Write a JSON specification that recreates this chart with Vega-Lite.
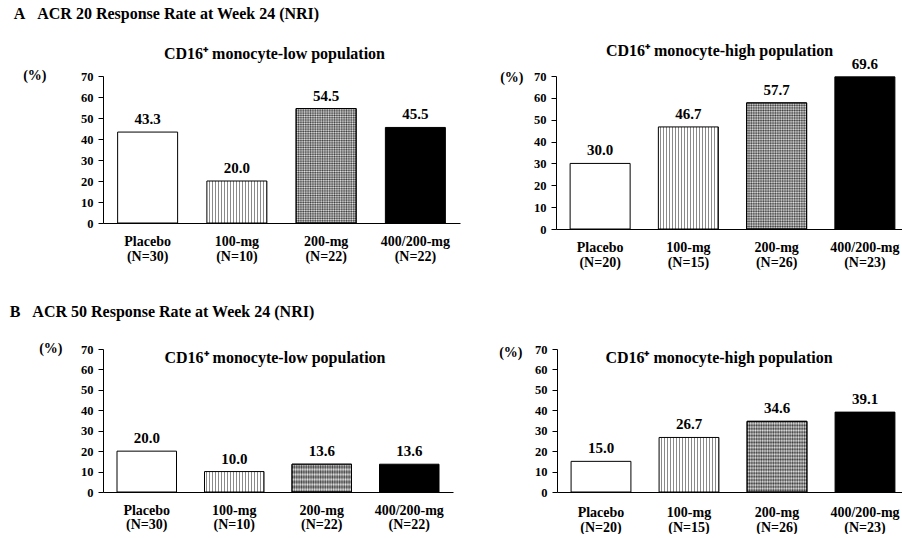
{
  "$schema": "https://vega.github.io/schema/vega-lite/v6.json",
  "background": "white",
  "padding": {"left": 9, "top": 5, "right": 0, "bottom": 0},
  "params": [
    {"name": "g1", "value": {"gradient": "linear", "x1": 0, "y1": 0, "x2": 1, "y2": 0, "stops": [
        {"offset": 0, "color": "#fff"}, {"offset": 0.03, "color": "#fff"}, {"offset": 0.03, "color": "#8a8a8a"}, {"offset": 0.05, "color": "#8a8a8a"},
        {"offset": 0.05, "color": "#fff"}, {"offset": 0.08, "color": "#fff"}, {"offset": 0.08, "color": "#8a8a8a"}, {"offset": 0.1, "color": "#8a8a8a"},
        {"offset": 0.1, "color": "#fff"}, {"offset": 0.13, "color": "#fff"}, {"offset": 0.13, "color": "#8a8a8a"}, {"offset": 0.15, "color": "#8a8a8a"},
        {"offset": 0.15, "color": "#fff"}, {"offset": 0.18, "color": "#fff"}, {"offset": 0.18, "color": "#8a8a8a"}, {"offset": 0.2, "color": "#8a8a8a"},
        {"offset": 0.2, "color": "#fff"}, {"offset": 0.23, "color": "#fff"}, {"offset": 0.23, "color": "#8a8a8a"}, {"offset": 0.25, "color": "#8a8a8a"},
        {"offset": 0.25, "color": "#fff"}, {"offset": 0.28, "color": "#fff"}, {"offset": 0.28, "color": "#8a8a8a"}, {"offset": 0.3, "color": "#8a8a8a"},
        {"offset": 0.3, "color": "#fff"}, {"offset": 0.33, "color": "#fff"}, {"offset": 0.33, "color": "#8a8a8a"}, {"offset": 0.35, "color": "#8a8a8a"},
        {"offset": 0.35, "color": "#fff"}, {"offset": 0.38, "color": "#fff"}, {"offset": 0.38, "color": "#8a8a8a"}, {"offset": 0.4, "color": "#8a8a8a"},
        {"offset": 0.4, "color": "#fff"}, {"offset": 0.43, "color": "#fff"}, {"offset": 0.43, "color": "#8a8a8a"}, {"offset": 0.45, "color": "#8a8a8a"},
        {"offset": 0.45, "color": "#fff"}, {"offset": 0.48, "color": "#fff"}, {"offset": 0.48, "color": "#8a8a8a"}, {"offset": 0.5, "color": "#8a8a8a"},
        {"offset": 0.5, "color": "#fff"}, {"offset": 0.53, "color": "#fff"}, {"offset": 0.53, "color": "#8a8a8a"}, {"offset": 0.55, "color": "#8a8a8a"},
        {"offset": 0.55, "color": "#fff"}, {"offset": 0.58, "color": "#fff"}, {"offset": 0.58, "color": "#8a8a8a"}, {"offset": 0.6, "color": "#8a8a8a"},
        {"offset": 0.6, "color": "#fff"}, {"offset": 0.63, "color": "#fff"}, {"offset": 0.63, "color": "#8a8a8a"}, {"offset": 0.65, "color": "#8a8a8a"},
        {"offset": 0.65, "color": "#fff"}, {"offset": 0.68, "color": "#fff"}, {"offset": 0.68, "color": "#8a8a8a"}, {"offset": 0.7, "color": "#8a8a8a"},
        {"offset": 0.7, "color": "#fff"}, {"offset": 0.73, "color": "#fff"}, {"offset": 0.73, "color": "#8a8a8a"}, {"offset": 0.75, "color": "#8a8a8a"},
        {"offset": 0.75, "color": "#fff"}, {"offset": 0.78, "color": "#fff"}, {"offset": 0.78, "color": "#8a8a8a"}, {"offset": 0.8, "color": "#8a8a8a"},
        {"offset": 0.8, "color": "#fff"}, {"offset": 0.83, "color": "#fff"}, {"offset": 0.83, "color": "#8a8a8a"}, {"offset": 0.85, "color": "#8a8a8a"},
        {"offset": 0.85, "color": "#fff"}, {"offset": 0.88, "color": "#fff"}, {"offset": 0.88, "color": "#8a8a8a"}, {"offset": 0.9, "color": "#8a8a8a"},
        {"offset": 0.9, "color": "#fff"}, {"offset": 0.93, "color": "#fff"}, {"offset": 0.93, "color": "#8a8a8a"}, {"offset": 0.95, "color": "#8a8a8a"},
        {"offset": 0.95, "color": "#fff"}, {"offset": 0.98, "color": "#fff"}, {"offset": 0.98, "color": "#8a8a8a"}, {"offset": 1, "color": "#8a8a8a"}
      ]}},
    {"name": "g2", "value": {"gradient": "linear", "x1": 0, "y1": 0, "x2": 1, "y2": 0, "stops": [
        {"offset": 0, "color": "#555"}, {"offset": 0.02, "color": "#d8d8d8"}, {"offset": 0.04, "color": "#555"}, {"offset": 0.06, "color": "#d8d8d8"},
        {"offset": 0.08, "color": "#555"}, {"offset": 0.1, "color": "#d8d8d8"}, {"offset": 0.12, "color": "#555"}, {"offset": 0.14, "color": "#d8d8d8"},
        {"offset": 0.16, "color": "#555"}, {"offset": 0.18, "color": "#d8d8d8"}, {"offset": 0.2, "color": "#555"}, {"offset": 0.22, "color": "#d8d8d8"},
        {"offset": 0.24, "color": "#555"}, {"offset": 0.26, "color": "#d8d8d8"}, {"offset": 0.28, "color": "#555"}, {"offset": 0.3, "color": "#d8d8d8"},
        {"offset": 0.32, "color": "#555"}, {"offset": 0.34, "color": "#d8d8d8"}, {"offset": 0.36, "color": "#555"}, {"offset": 0.38, "color": "#d8d8d8"},
        {"offset": 0.4, "color": "#555"}, {"offset": 0.42, "color": "#d8d8d8"}, {"offset": 0.44, "color": "#555"}, {"offset": 0.46, "color": "#d8d8d8"},
        {"offset": 0.48, "color": "#555"}, {"offset": 0.5, "color": "#d8d8d8"}, {"offset": 0.52, "color": "#555"}, {"offset": 0.54, "color": "#d8d8d8"},
        {"offset": 0.56, "color": "#555"}, {"offset": 0.58, "color": "#d8d8d8"}, {"offset": 0.6, "color": "#555"}, {"offset": 0.62, "color": "#d8d8d8"},
        {"offset": 0.64, "color": "#555"}, {"offset": 0.66, "color": "#d8d8d8"}, {"offset": 0.68, "color": "#555"}, {"offset": 0.7, "color": "#d8d8d8"},
        {"offset": 0.72, "color": "#555"}, {"offset": 0.74, "color": "#d8d8d8"}, {"offset": 0.76, "color": "#555"}, {"offset": 0.78, "color": "#d8d8d8"},
        {"offset": 0.8, "color": "#555"}, {"offset": 0.82, "color": "#d8d8d8"}, {"offset": 0.84, "color": "#555"}, {"offset": 0.86, "color": "#d8d8d8"},
        {"offset": 0.88, "color": "#555"}, {"offset": 0.9, "color": "#d8d8d8"}, {"offset": 0.92, "color": "#555"}, {"offset": 0.94, "color": "#d8d8d8"},
        {"offset": 0.96, "color": "#555"}, {"offset": 0.98, "color": "#d8d8d8"}, {"offset": 1, "color": "#555"}
      ]}},
    {"name": "g3", "value": {"gradient": "linear", "x1": 0, "y1": 0, "x2": 0, "y2": 1, "stops": [
        {"offset": 0, "color": "rgba(0,0,0,0.35)"}, {"offset": 0.01, "color": "rgba(255,255,255,0.35)"}, {"offset": 0.02, "color": "rgba(0,0,0,0.35)"}, {"offset": 0.03, "color": "rgba(255,255,255,0.35)"}, {"offset": 0.04, "color": "rgba(0,0,0,0.35)"}, {"offset": 0.05, "color": "rgba(255,255,255,0.35)"}, {"offset": 0.06, "color": "rgba(0,0,0,0.35)"}, {"offset": 0.07, "color": "rgba(255,255,255,0.35)"}, {"offset": 0.08, "color": "rgba(0,0,0,0.35)"}, {"offset": 0.09, "color": "rgba(255,255,255,0.35)"},
        {"offset": 0.1, "color": "rgba(0,0,0,0.35)"}, {"offset": 0.11, "color": "rgba(255,255,255,0.35)"}, {"offset": 0.12, "color": "rgba(0,0,0,0.35)"}, {"offset": 0.13, "color": "rgba(255,255,255,0.35)"}, {"offset": 0.14, "color": "rgba(0,0,0,0.35)"}, {"offset": 0.15, "color": "rgba(255,255,255,0.35)"}, {"offset": 0.16, "color": "rgba(0,0,0,0.35)"}, {"offset": 0.17, "color": "rgba(255,255,255,0.35)"}, {"offset": 0.18, "color": "rgba(0,0,0,0.35)"}, {"offset": 0.19, "color": "rgba(255,255,255,0.35)"},
        {"offset": 0.2, "color": "rgba(0,0,0,0.35)"}, {"offset": 0.21, "color": "rgba(255,255,255,0.35)"}, {"offset": 0.22, "color": "rgba(0,0,0,0.35)"}, {"offset": 0.23, "color": "rgba(255,255,255,0.35)"}, {"offset": 0.24, "color": "rgba(0,0,0,0.35)"}, {"offset": 0.25, "color": "rgba(255,255,255,0.35)"}, {"offset": 0.26, "color": "rgba(0,0,0,0.35)"}, {"offset": 0.27, "color": "rgba(255,255,255,0.35)"}, {"offset": 0.28, "color": "rgba(0,0,0,0.35)"}, {"offset": 0.29, "color": "rgba(255,255,255,0.35)"},
        {"offset": 0.3, "color": "rgba(0,0,0,0.35)"}, {"offset": 0.31, "color": "rgba(255,255,255,0.35)"}, {"offset": 0.32, "color": "rgba(0,0,0,0.35)"}, {"offset": 0.33, "color": "rgba(255,255,255,0.35)"}, {"offset": 0.34, "color": "rgba(0,0,0,0.35)"}, {"offset": 0.35, "color": "rgba(255,255,255,0.35)"}, {"offset": 0.36, "color": "rgba(0,0,0,0.35)"}, {"offset": 0.37, "color": "rgba(255,255,255,0.35)"}, {"offset": 0.38, "color": "rgba(0,0,0,0.35)"}, {"offset": 0.39, "color": "rgba(255,255,255,0.35)"},
        {"offset": 0.4, "color": "rgba(0,0,0,0.35)"}, {"offset": 0.41, "color": "rgba(255,255,255,0.35)"}, {"offset": 0.42, "color": "rgba(0,0,0,0.35)"}, {"offset": 0.43, "color": "rgba(255,255,255,0.35)"}, {"offset": 0.44, "color": "rgba(0,0,0,0.35)"}, {"offset": 0.45, "color": "rgba(255,255,255,0.35)"}, {"offset": 0.46, "color": "rgba(0,0,0,0.35)"}, {"offset": 0.47, "color": "rgba(255,255,255,0.35)"}, {"offset": 0.48, "color": "rgba(0,0,0,0.35)"}, {"offset": 0.49, "color": "rgba(255,255,255,0.35)"},
        {"offset": 0.5, "color": "rgba(0,0,0,0.35)"}, {"offset": 0.51, "color": "rgba(255,255,255,0.35)"}, {"offset": 0.52, "color": "rgba(0,0,0,0.35)"}, {"offset": 0.53, "color": "rgba(255,255,255,0.35)"}, {"offset": 0.54, "color": "rgba(0,0,0,0.35)"}, {"offset": 0.55, "color": "rgba(255,255,255,0.35)"}, {"offset": 0.56, "color": "rgba(0,0,0,0.35)"}, {"offset": 0.57, "color": "rgba(255,255,255,0.35)"}, {"offset": 0.58, "color": "rgba(0,0,0,0.35)"}, {"offset": 0.59, "color": "rgba(255,255,255,0.35)"},
        {"offset": 0.6, "color": "rgba(0,0,0,0.35)"}, {"offset": 0.61, "color": "rgba(255,255,255,0.35)"}, {"offset": 0.62, "color": "rgba(0,0,0,0.35)"}, {"offset": 0.63, "color": "rgba(255,255,255,0.35)"}, {"offset": 0.64, "color": "rgba(0,0,0,0.35)"}, {"offset": 0.65, "color": "rgba(255,255,255,0.35)"}, {"offset": 0.66, "color": "rgba(0,0,0,0.35)"}, {"offset": 0.67, "color": "rgba(255,255,255,0.35)"}, {"offset": 0.68, "color": "rgba(0,0,0,0.35)"}, {"offset": 0.69, "color": "rgba(255,255,255,0.35)"},
        {"offset": 0.7, "color": "rgba(0,0,0,0.35)"}, {"offset": 0.71, "color": "rgba(255,255,255,0.35)"}, {"offset": 0.72, "color": "rgba(0,0,0,0.35)"}, {"offset": 0.73, "color": "rgba(255,255,255,0.35)"}, {"offset": 0.74, "color": "rgba(0,0,0,0.35)"}, {"offset": 0.75, "color": "rgba(255,255,255,0.35)"}, {"offset": 0.76, "color": "rgba(0,0,0,0.35)"}, {"offset": 0.77, "color": "rgba(255,255,255,0.35)"}, {"offset": 0.78, "color": "rgba(0,0,0,0.35)"}, {"offset": 0.79, "color": "rgba(255,255,255,0.35)"},
        {"offset": 0.8, "color": "rgba(0,0,0,0.35)"}, {"offset": 0.81, "color": "rgba(255,255,255,0.35)"}, {"offset": 0.82, "color": "rgba(0,0,0,0.35)"}, {"offset": 0.83, "color": "rgba(255,255,255,0.35)"}, {"offset": 0.84, "color": "rgba(0,0,0,0.35)"}, {"offset": 0.85, "color": "rgba(255,255,255,0.35)"}, {"offset": 0.86, "color": "rgba(0,0,0,0.35)"}, {"offset": 0.87, "color": "rgba(255,255,255,0.35)"}, {"offset": 0.88, "color": "rgba(0,0,0,0.35)"}, {"offset": 0.89, "color": "rgba(255,255,255,0.35)"},
        {"offset": 0.9, "color": "rgba(0,0,0,0.35)"}, {"offset": 0.91, "color": "rgba(255,255,255,0.35)"}, {"offset": 0.92, "color": "rgba(0,0,0,0.35)"}, {"offset": 0.93, "color": "rgba(255,255,255,0.35)"}, {"offset": 0.94, "color": "rgba(0,0,0,0.35)"}, {"offset": 0.95, "color": "rgba(255,255,255,0.35)"}, {"offset": 0.96, "color": "rgba(0,0,0,0.35)"}, {"offset": 0.97, "color": "rgba(255,255,255,0.35)"}, {"offset": 0.98, "color": "rgba(0,0,0,0.35)"}, {"offset": 0.99, "color": "rgba(255,255,255,0.35)"},
        {"offset": 1, "color": "rgba(0,0,0,0.35)"}
      ]}}
  ],
  "data": {"values": [
    {"sec": "A", "pop": "low", "dose": "Placebo", "cat": "Placebo|(N=30)", "v": 43.3},
    {"sec": "A", "pop": "low", "dose": "100-mg", "cat": "100-mg|(N=10)", "v": 20.0},
    {"sec": "A", "pop": "low", "dose": "200-mg", "cat": "200-mg|(N=22)", "v": 54.5},
    {"sec": "A", "pop": "low", "dose": "400/200-mg", "cat": "400/200-mg|(N=22)", "v": 45.5},
    {"sec": "A", "pop": "high", "dose": "Placebo", "cat": "Placebo|(N=20)", "v": 30.0},
    {"sec": "A", "pop": "high", "dose": "100-mg", "cat": "100-mg|(N=15)", "v": 46.7},
    {"sec": "A", "pop": "high", "dose": "200-mg", "cat": "200-mg|(N=26)", "v": 57.7},
    {"sec": "A", "pop": "high", "dose": "400/200-mg", "cat": "400/200-mg|(N=23)", "v": 69.6},
    {"sec": "B", "pop": "low", "dose": "Placebo", "cat": "Placebo|(N=30)", "v": 20.0},
    {"sec": "B", "pop": "low", "dose": "100-mg", "cat": "100-mg|(N=10)", "v": 10.0},
    {"sec": "B", "pop": "low", "dose": "200-mg", "cat": "200-mg|(N=22)", "v": 13.6},
    {"sec": "B", "pop": "low", "dose": "400/200-mg", "cat": "400/200-mg|(N=22)", "v": 13.6},
    {"sec": "B", "pop": "high", "dose": "Placebo", "cat": "Placebo|(N=20)", "v": 15.0},
    {"sec": "B", "pop": "high", "dose": "100-mg", "cat": "100-mg|(N=15)", "v": 26.7},
    {"sec": "B", "pop": "high", "dose": "200-mg", "cat": "200-mg|(N=26)", "v": 34.6},
    {"sec": "B", "pop": "high", "dose": "400/200-mg", "cat": "400/200-mg|(N=23)", "v": 39.1}
  ]},
  "spacing": 35,
  "vconcat": [
    {
      "title": {"text": "A\u00a0\u00a0\u00a0ACR 20 Response Rate at Week 24 (NRI)", "anchor": "start", "frame": "bounds", "fontSize": 16, "dx": -9, "offset": 21},
      "bounds": "flush",
      "spacing": 96,
      "hconcat": [
        {
          "width": 357, "height": 147,
          "title": {"text": "CD16\u207a monocyte-low population", "offset": 6, "dx": -7},
          "transform": [{"filter": "datum.sec=='A' && datum.pop=='low'"}],
          "encoding": {
            "x": {"field": "cat", "type": "nominal", "sort": null, "scale": {"paddingInner": 0.328, "paddingOuter": 0.164}, "axis": {"title": null, "labelExpr": "split(datum.value,'|')", "labelLineHeight": 15}},
            "y": {"field": "v", "type": "quantitative", "scale": {"domain": [0, 70]}, "axis": {"title": "(%)", "values": [0, 10, 20, 30, 40, 50, 60, 70], "titleX": -57, "titleY": -1}}
          },
          "layer": [
            {"transform": [{"filter": "datum.dose=='Placebo'"}], "mark": {"type": "bar", "fill": "white", "stroke": "black", "strokeWidth": 1}},
            {"transform": [{"filter": "datum.dose=='100-mg'"}], "mark": {"type": "bar", "fill": {"expr": "g1"}, "stroke": "black", "strokeWidth": 1}},
            {"transform": [{"filter": "datum.dose=='200-mg'"}], "mark": {"type": "bar", "fill": {"expr": "g2"}, "stroke": "black", "strokeWidth": 1}},
            {"transform": [{"filter": "datum.dose=='200-mg'"}], "mark": {"type": "bar", "fill": {"expr": "g3"}, "stroke": "black", "strokeWidth": 1}},
            {"transform": [{"filter": "datum.dose=='400/200-mg'"}], "mark": {"type": "bar", "fill": "black", "stroke": "black", "strokeWidth": 1}},
            {"mark": {"type": "text", "baseline": "alphabetic", "dy": -8, "fontSize": 15, "fontWeight": "bold", "color": "black"}, "encoding": {"text": {"field": "v", "type": "quantitative", "format": ".1f"}}}
          ]
        },
        {
          "width": 353, "height": 153,
          "title": {"text": "CD16\u207a monocyte-high population", "offset": -2, "dx": -13},
          "transform": [{"filter": "datum.sec=='A' && datum.pop=='high'"}],
          "encoding": {
            "x": {"field": "cat", "type": "nominal", "sort": null, "scale": {"paddingInner": 0.32, "paddingOuter": 0.16}, "axis": {"title": null, "labelExpr": "split(datum.value,'|')", "labelLineHeight": 15}},
            "y": {"field": "v", "type": "quantitative", "scale": {"domain": [0, 70]}, "axis": {"title": "(%)", "values": [0, 10, 20, 30, 40, 50, 60, 70], "titleX": -33, "titleY": 1}}
          },
          "layer": [
            {"transform": [{"filter": "datum.dose=='Placebo'"}], "mark": {"type": "bar", "fill": "white", "stroke": "black", "strokeWidth": 1}},
            {"transform": [{"filter": "datum.dose=='100-mg'"}], "mark": {"type": "bar", "fill": {"expr": "g1"}, "stroke": "black", "strokeWidth": 1}},
            {"transform": [{"filter": "datum.dose=='200-mg'"}], "mark": {"type": "bar", "fill": {"expr": "g2"}, "stroke": "black", "strokeWidth": 1}},
            {"transform": [{"filter": "datum.dose=='200-mg'"}], "mark": {"type": "bar", "fill": {"expr": "g3"}, "stroke": "black", "strokeWidth": 1}},
            {"transform": [{"filter": "datum.dose=='400/200-mg'"}], "mark": {"type": "bar", "fill": "black", "stroke": "black", "strokeWidth": 1}},
            {"mark": {"type": "text", "baseline": "alphabetic", "dy": -8, "fontSize": 15, "fontWeight": "bold", "color": "black"}, "encoding": {"text": {"field": "v", "type": "quantitative", "format": ".1f"}}}
          ]
        }
      ]
    },
    {
      "title": {"text": "B\u00a0\u00a0\u00a0ACR 50 Response Rate at Week 24 (NRI)", "anchor": "start", "frame": "bounds", "fontSize": 16, "dx": -29, "offset": 21},
      "bounds": "flush",
      "spacing": 104,
      "hconcat": [
        {
          "width": 350, "height": 143,
          "title": {"text": "CD16\u207a monocyte-low population", "offset": -25, "dx": -3},
          "transform": [{"filter": "datum.sec=='B' && datum.pop=='low'"}],
          "encoding": {
            "x": {"field": "cat", "type": "nominal", "sort": null, "scale": {"paddingInner": 0.32, "paddingOuter": 0.16}, "axis": {"title": null, "labelExpr": "split(datum.value,'|')", "labelLineHeight": 14}},
            "y": {"field": "v", "type": "quantitative", "scale": {"domain": [0, 70]}, "axis": {"title": "(%)", "values": [0, 10, 20, 30, 40, 50, 60, 70], "titleX": -41, "titleY": -1}}
          },
          "layer": [
            {"transform": [{"filter": "datum.dose=='Placebo'"}], "mark": {"type": "bar", "fill": "white", "stroke": "black", "strokeWidth": 1}},
            {"transform": [{"filter": "datum.dose=='100-mg'"}], "mark": {"type": "bar", "fill": {"expr": "g1"}, "stroke": "black", "strokeWidth": 1}},
            {"transform": [{"filter": "datum.dose=='200-mg'"}], "mark": {"type": "bar", "fill": {"expr": "g2"}, "stroke": "black", "strokeWidth": 1}},
            {"transform": [{"filter": "datum.dose=='200-mg'"}], "mark": {"type": "bar", "fill": {"expr": "g3"}, "stroke": "black", "strokeWidth": 1}},
            {"transform": [{"filter": "datum.dose=='400/200-mg'"}], "mark": {"type": "bar", "fill": "black", "stroke": "black", "strokeWidth": 1}},
            {"mark": {"type": "text", "baseline": "alphabetic", "dy": -8, "fontSize": 15, "fontWeight": "bold", "color": "black"}, "encoding": {"text": {"field": "v", "type": "quantitative", "format": ".1f"}}}
          ]
        },
        {
          "width": 352, "height": 143,
          "title": {"text": "CD16\u207a monocyte-high population", "offset": -23, "dx": -14},
          "transform": [{"filter": "datum.sec=='B' && datum.pop=='high'"}],
          "encoding": {
            "x": {"field": "cat", "type": "nominal", "sort": null, "scale": {"paddingInner": 0.32, "paddingOuter": 0.16}, "axis": {"title": null, "labelExpr": "split(datum.value,'|')", "labelLineHeight": 15, "labelPadding": 13}},
            "y": {"field": "v", "type": "quantitative", "scale": {"domain": [0, 70]}, "axis": {"title": "(%)", "values": [0, 10, 20, 30, 40, 50, 60, 70], "titleX": -35, "titleY": 3}}
          },
          "layer": [
            {"transform": [{"filter": "datum.dose=='Placebo'"}], "mark": {"type": "bar", "fill": "white", "stroke": "black", "strokeWidth": 1}},
            {"transform": [{"filter": "datum.dose=='100-mg'"}], "mark": {"type": "bar", "fill": {"expr": "g1"}, "stroke": "black", "strokeWidth": 1}},
            {"transform": [{"filter": "datum.dose=='200-mg'"}], "mark": {"type": "bar", "fill": {"expr": "g2"}, "stroke": "black", "strokeWidth": 1}},
            {"transform": [{"filter": "datum.dose=='200-mg'"}], "mark": {"type": "bar", "fill": {"expr": "g3"}, "stroke": "black", "strokeWidth": 1}},
            {"transform": [{"filter": "datum.dose=='400/200-mg'"}], "mark": {"type": "bar", "fill": "black", "stroke": "black", "strokeWidth": 1}},
            {"mark": {"type": "text", "baseline": "alphabetic", "dy": -8, "fontSize": 15, "fontWeight": "bold", "color": "black"}, "encoding": {"text": {"field": "v", "type": "quantitative", "format": ".1f"}}}
          ]
        }
      ]
    }
  ],
  "config": {
    "font": "Liberation Serif",
    "view": {"stroke": null},
    "title": {"font": "Liberation Serif", "fontWeight": "bold", "fontSize": 16, "color": "black", "anchor": "middle", "frame": "group"},
    "axis": {"grid": false, "domainColor": "black", "domainWidth": 1, "tickColor": "black", "tickWidth": 1, "labelColor": "black", "labelFont": "Liberation Serif", "labelFontWeight": "bold", "titleFont": "Liberation Serif", "titleFontWeight": "bold", "titleColor": "black"},
    "axisX": {"ticks": false, "labelAngle": 0, "labelFontSize": 14, "labelPadding": 11},
    "axisY": {"tickSize": 5, "labelPadding": 5, "labelFontSize": 12.5, "titleAngle": 0, "titleAlign": "right", "titleBaseline": "middle", "titleFontSize": 14}
  }
}
